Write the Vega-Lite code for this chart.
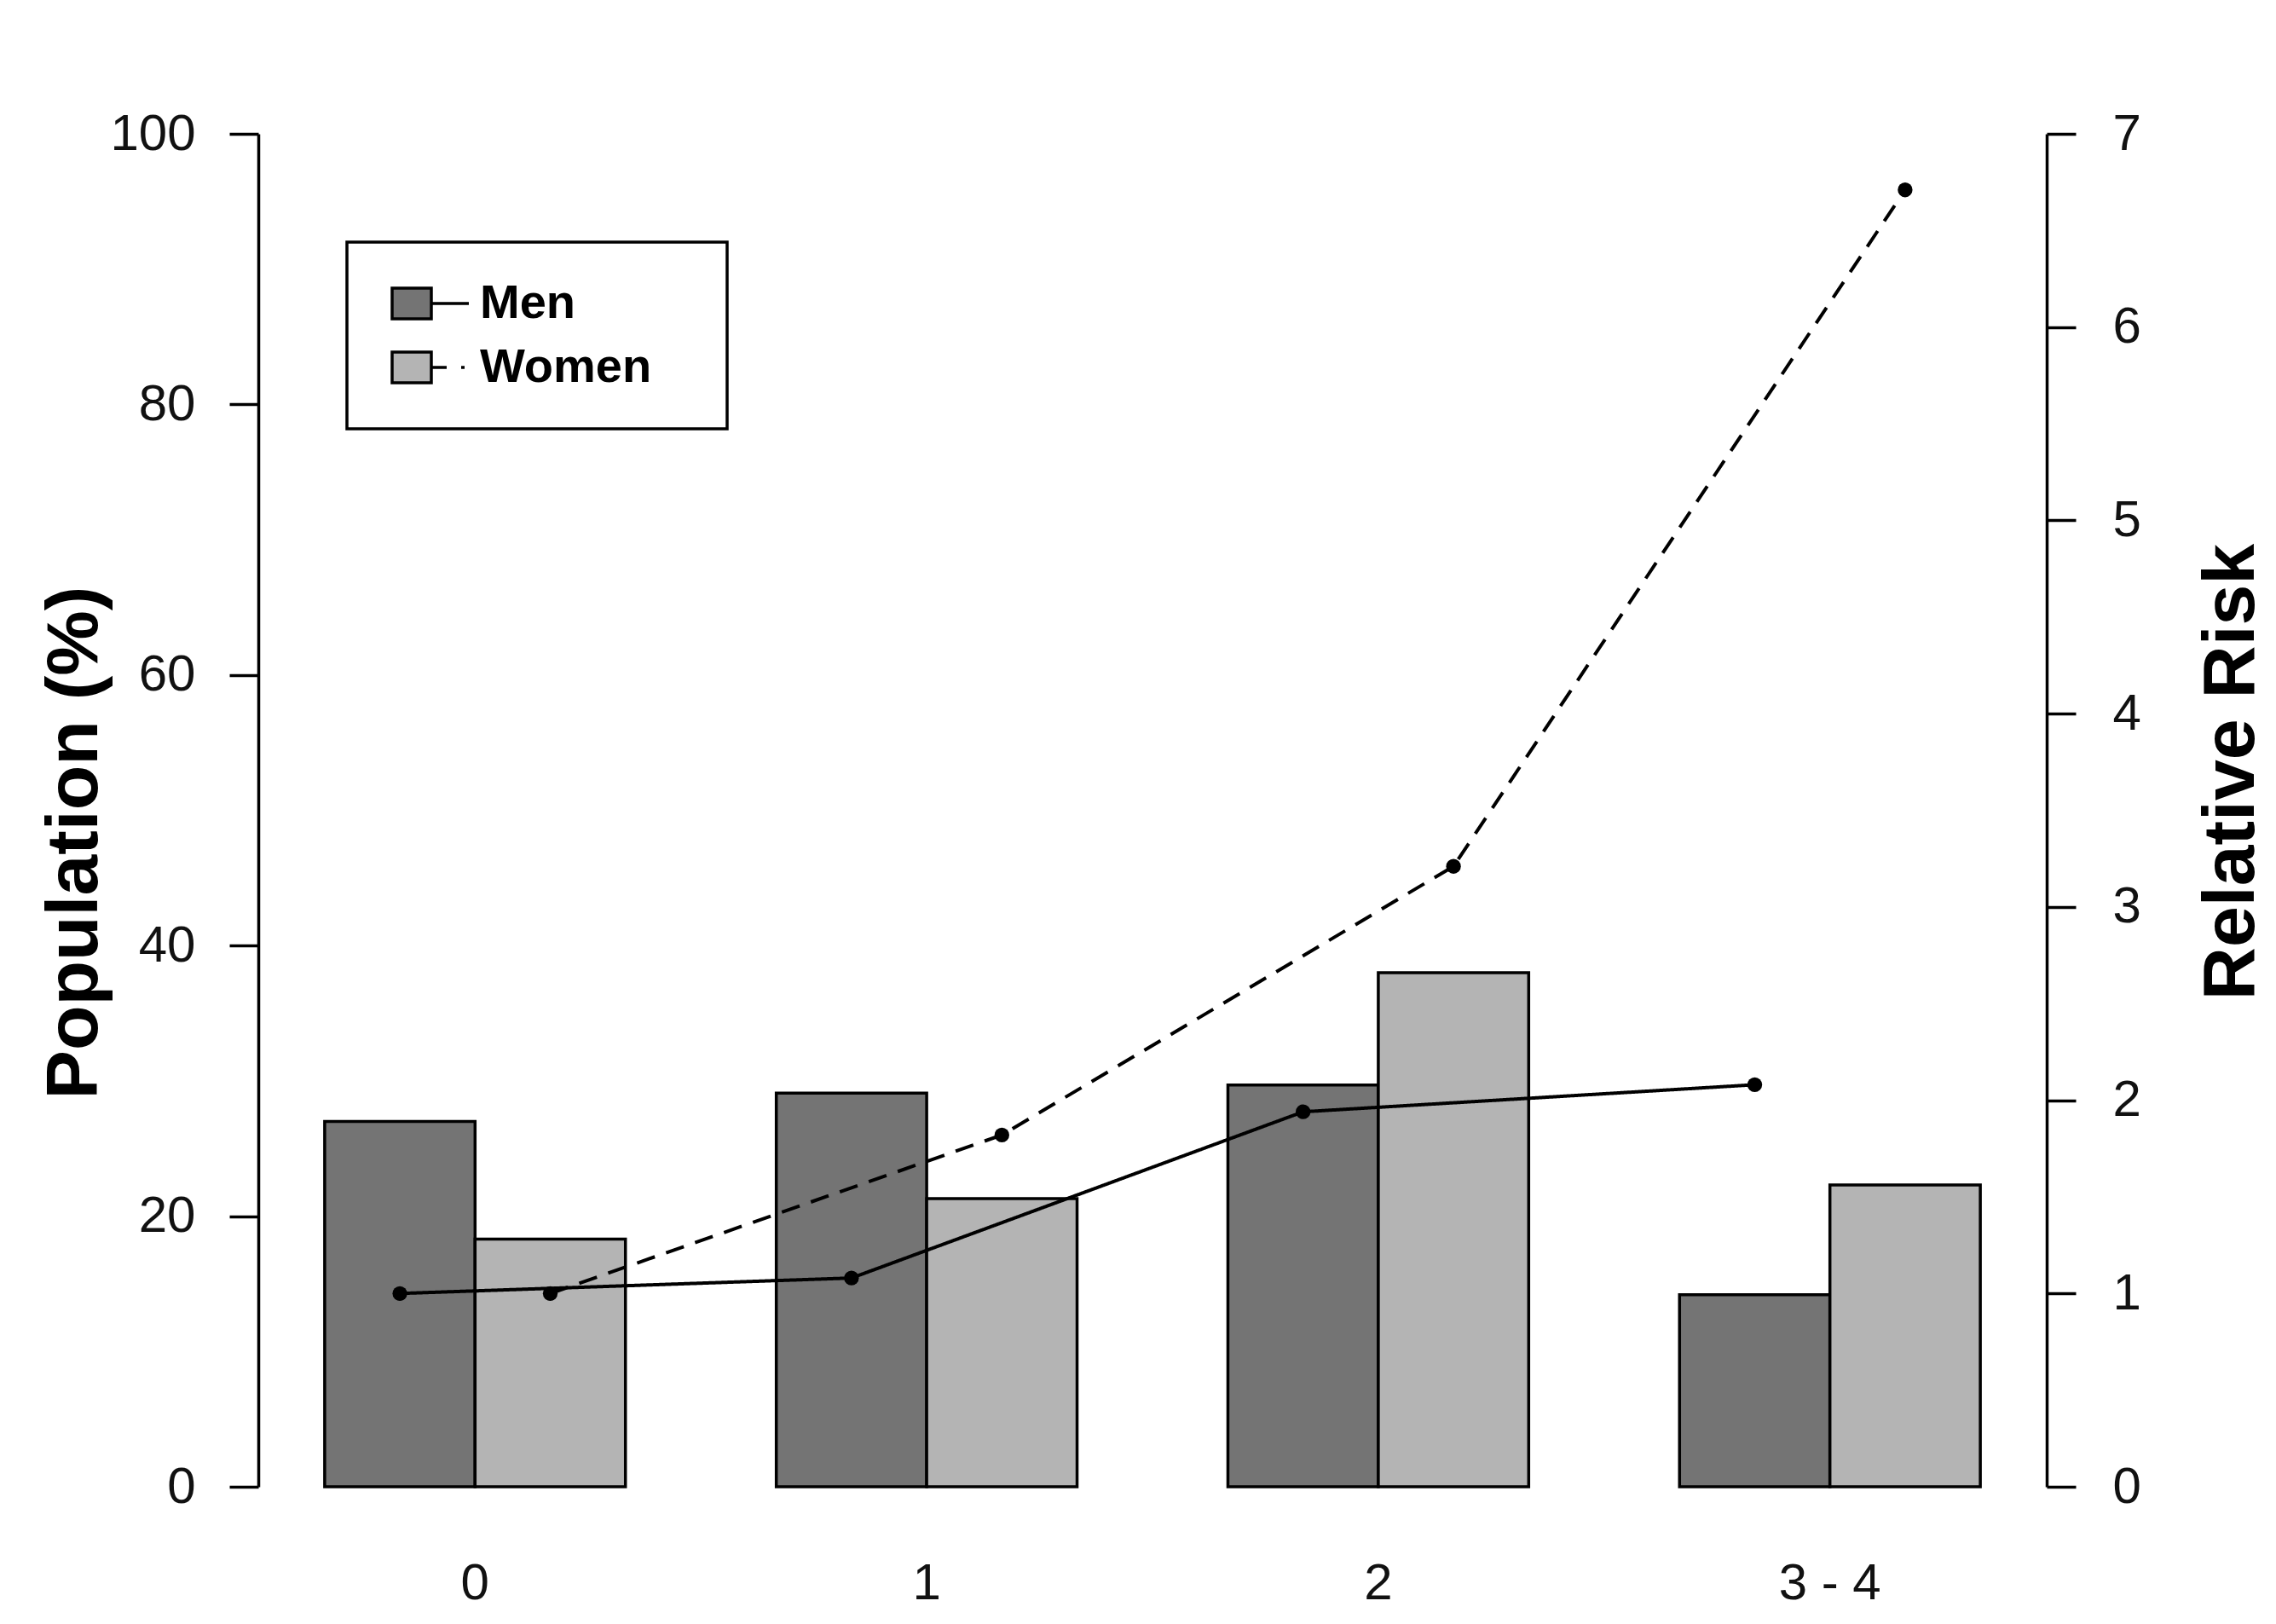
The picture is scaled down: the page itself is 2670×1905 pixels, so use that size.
{
  "$schema": "https://vega.github.io/schema/vega-lite/v6.json",
  "width": 2098,
  "height": 1587,
  "autosize": {"type": "none"},
  "padding": {"left": 303, "top": 157, "right": 269, "bottom": 161},
  "background": "white",
  "data": {
    "values": [
      {"group": "0", "sex": "Men", "pop": 27.0, "rr": 1.0},
      {"group": "0", "sex": "Women", "pop": 18.3, "rr": 1.0},
      {"group": "1", "sex": "Men", "pop": 29.1, "rr": 1.08},
      {"group": "1", "sex": "Women", "pop": 21.3, "rr": 1.82},
      {"group": "2", "sex": "Men", "pop": 29.7, "rr": 1.94},
      {"group": "2", "sex": "Women", "pop": 38.0, "rr": 3.21},
      {"group": "3 - 4", "sex": "Men", "pop": 14.2, "rr": 2.08},
      {"group": "3 - 4", "sex": "Women", "pop": 22.3, "rr": 6.71}
    ]
  },
  "encoding": {
    "x": {
      "field": "group",
      "type": "nominal",
      "scale": {"domain": ["0", "1", "2", "3 - 4"], "paddingInner": 0.334, "paddingOuter": 0.147},
      "axis": {
        "title": null,
        "domain": false,
        "ticks": false,
        "labelAngle": 0,
        "labelPadding": 84,
        "labelFontSize": 60,
        "labelColor": "#111"
      }
    },
    "xOffset": {
      "field": "sex",
      "type": "nominal",
      "scale": {"domain": ["Men", "Women"], "paddingInner": 0, "paddingOuter": 0}
    }
  },
  "layer": [
    {
      "mark": {"type": "bar", "stroke": "black", "strokeWidth": 3.5},
      "encoding": {
        "y": {
          "field": "pop",
          "type": "quantitative",
          "scale": {"domain": [0, 100], "nice": false},
          "axis": {
            "title": "Population (%)",
            "values": [0, 20, 40, 60, 80, 100],
            "grid": false,
            "tickSize": 34,
            "tickWidth": 3.5,
            "tickColor": "black",
            "domainColor": "black",
            "domainWidth": 3.5,
            "labelFontSize": 60,
            "labelPadding": 40,
            "labelColor": "#111",
            "titleFontSize": 86,
            "titleFontWeight": "bold",
            "titleColor": "black",
            "titleAngle": 270,
            "titleAlign": "center",
            "titleBaseline": "alphabetic",
            "titleX": -190,
            "titleY": 831
          }
        },
        "fill": {
          "field": "sex",
          "type": "nominal",
          "scale": {"domain": ["Men", "Women"], "range": ["#747474", "#b4b4b4"]},
          "legend": {
            "orient": "none",
            "legendX": 104,
            "legendY": 127,
            "title": null,
            "padding": 44,
            "strokeColor": "black",
            "fillColor": "white",
            "labelFontSize": 56,
            "labelFontWeight": "bold",
            "labelColor": "black",
            "labelLimit": 0,
            "labelOffset": 30,
            "symbolSize": 400,
            "symbolOffset": 26,
            "symbolStrokeColor": "black",
            "symbolStrokeWidth": 3.5,
            "rowPadding": 19,
            "encode": {
              "legend": {"update": {"strokeWidth": {"value": 3.5}}},
              "symbols": {
                "update": {
                  "shape": {"signal": "datum.value === 'Men' ? 'M-4.5,-1.8H0.1V1.8H-4.5Z M0.1,0H4.5 M29.7,0' : 'M-4.5,-1.8H0.1V1.8H-4.5Z M0.1,0H1.9 M3.6,0H4.0 M29.7,0'"},
                  "stroke": {"value": "black"},
                  "strokeWidth": {"value": 3.5}
                }
              }
            }
          }
        }
      }
    },
    {
      "mark": {
        "type": "line",
        "color": "black",
        "strokeWidth": 4,
        "point": {"filled": true, "color": "black", "size": 300}
      },
      "encoding": {
        "y": {
          "field": "rr",
          "type": "quantitative",
          "scale": {"domain": [0, 7], "nice": false},
          "axis": {
            "orient": "right",
            "title": "Relative Risk",
            "values": [0, 1, 2, 3, 4, 5, 6, 7],
            "grid": false,
            "tickSize": 34,
            "tickWidth": 3.5,
            "tickColor": "black",
            "domainColor": "black",
            "domainWidth": 3.5,
            "labelFontSize": 60,
            "labelPadding": 43,
            "labelColor": "#111",
            "titleFontSize": 86,
            "titleFontWeight": "bold",
            "titleColor": "black",
            "titleAngle": 270,
            "titleAlign": "center",
            "titleBaseline": "alphabetic",
            "titleX": 242,
            "titleY": 748
          }
        },
        "strokeDash": {
          "field": "sex",
          "type": "nominal",
          "scale": {"domain": ["Women", "Men"], "range": [[22, 14], [1, 0]]},
          "legend": null
        }
      }
    }
  ],
  "resolve": {"scale": {"y": "independent"}},
  "config": {
    "font": "Liberation Sans",
    "view": {"stroke": null}
  }
}
